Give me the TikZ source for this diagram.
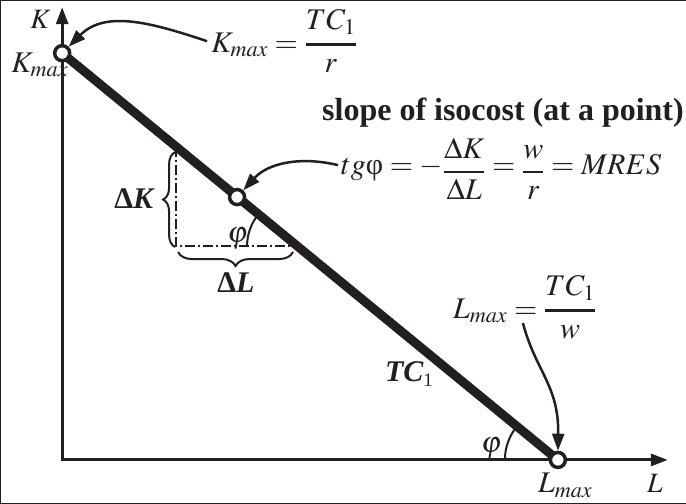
\documentclass[tikz,border=0pt]{standalone}
\usepackage{amsmath}
\usepackage{mathptmx}
\usepackage[no-math]{fontspec}
\setmainfont{Liberation Serif}
\usetikzlibrary{arrows.meta,decorations.pathreplacing}
\definecolor{ink}{HTML}{231F20}
\newcommand{\lowfrac}[3]{\raisebox{-5pt}{$\genfrac{}{}{#1}{0}{#2}{#3}$}}
\begin{document}
\begin{tikzpicture}[x=1pt,y=-1pt,
  every path/.style={draw=ink},
  lbl/.style={inner sep=0pt, text=ink, font=\fontsize{30}{36}\selectfont},
  axislbl/.style={inner sep=0pt, text=ink, font=\fontsize{28}{34}\selectfont},
  endpt/.style={circle, draw=ink, line width=3.5pt, fill=white, minimum size=15pt, inner sep=0pt},
  callout/.style={draw=ink, line width=2.5pt, -{Triangle[length=17pt,width=12pt]}},
  dd/.style={draw=ink, line width=2.5pt, dash pattern=on 10pt off 3pt on 2pt off 3pt},
  brc/.style={draw=ink, line width=2pt, decorate, decoration={brace, amplitude=#1}},
]
\useasboundingbox (0,0) rectangle (686,503);
% coordinates
\coordinate (O) at (62,460);
\coordinate (Ktop) at (62,7);
\coordinate (Lend) at (668,460);
\coordinate (pK) at (62,53);
\coordinate (pL) at (558,460);
\coordinate (pM) at (237,197);
\coordinate (tA) at (176,147);
\coordinate (tB) at (176,246);
\coordinate (tC) at (297,246);
% axes
\draw[line width=3pt, {Triangle[length=17pt,width=12pt]}-{Triangle[length=17pt,width=12pt]}] (Ktop) -- (O) -- (Lend);
% triangle
\draw[dd] (tA) -- (tB) -- (tC);
% braces
\draw[brc=12] (175,247) -- (175,152);
\draw[brc=14] (293,252) -- (178,252);
% angle arcs
\draw[line width=2pt] (tC) ++(-50,0) arc[start angle=180, end angle=219.4, radius=50];
\draw[line width=2pt] (pL) ++(-53,0) arc[start angle=180, end angle=219.4, radius=53];
% isocost line
\draw[line width=9pt] (pK) -- (pL);
% points
\node[endpt] (Kmax) at (pK) {};
\node[endpt] (Lmax) at (pL) {};
\node[endpt] (M) at (pM) {};
% labels
\node[axislbl, anchor=base west] (Klbl) at (30,28) {$K$};
\node[axislbl, anchor=base west] (Llbl) at (647,493) {$L$};
\node[lbl, anchor=base west] (Kmaxlbl) at (11,72) {$K_{max}$};
\node[lbl, anchor=base west] (Lmaxlbl) at (538,493) {$L_{max}$};
\node[lbl, anchor=base west] (dK) at (114,208) {\bfseries Δ\textit{K}};
\node[lbl, anchor=base west] (dL) at (217,292) {\bfseries Δ\textit{L}};
\node[lbl, anchor=base west] (tc) at (385,382) {{\bfseries\itshape TC}\raisebox{-5pt}{\fontsize{19}{20}\selectfont 1}};
\node[lbl, anchor=base west] (phi1) at (227,242) {$\varphi$};
\node[lbl, anchor=base west] (phi2) at (481,453) {$\varphi$};
% formulas
\node[lbl, anchor=base west] (kf) at (211,52) {$K_{max} = \genfrac{}{}{3pt}{0}{TC_1}{r}$};
\node[lbl, anchor=base west] (lf) at (453,318) {$L_{max} = \genfrac{}{}{3pt}{0}{TC_1}{w}$};
\node[inner sep=0pt, text=ink, font=\fontsize{32}{38}\selectfont\bfseries, anchor=base west] (title) at (322,120) {slope of isocost (at a point)};
\node[lbl, anchor=base west] (sf) at (341,174) {$tg\mbox{φ} = -\lowfrac{2pt}{\Delta K}{\Delta L} = \lowfrac{2pt}{w}{r} = MRES$};
% callouts
\coordinate (k1) at (207,41);
\coordinate (s1) at (338,165);
\coordinate (l1) at (523,323);
\draw[callout] (k1) .. controls (150,22) and (105,10) .. (Kmax);
\draw[callout] (s1) .. controls (300,156) and (268,163) .. (M);
\draw[callout] (l1) .. controls (536,372) and (559,385) .. (Lmax);
\end{tikzpicture}
\end{document}
